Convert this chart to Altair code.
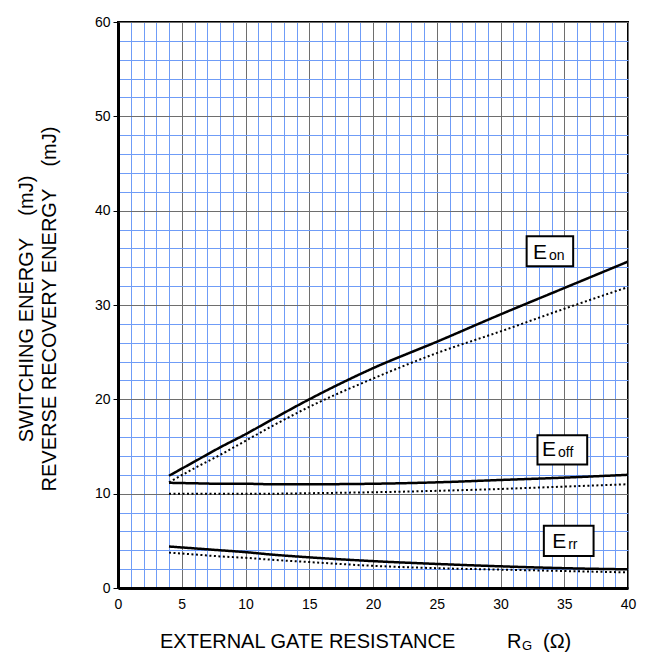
import altair as alt
import pandas as pd

rg = [4, 6, 8, 10, 12, 15, 20, 25, 30, 35, 40]
eon_solid = [11.9, 13.4, 14.9, 16.3, 17.8, 20.0, 23.3, 26.1, 29.0, 31.8, 34.6]
eon_dotted = [11.2, 12.7, 14.1, 15.6, 17.1, 19.2, 22.2, 24.9, 27.2, 29.6, 31.9]
eoff_solid = [11.15, 11.1, 11.05, 11.05, 11.0, 11.0, 11.05, 11.2, 11.45, 11.7, 12.0]
eoff_dotted = [10.0, 10.0, 10.0, 10.0, 10.0, 10.05, 10.15, 10.3, 10.5, 10.75, 11.0]
err_solid = [4.4, 4.2, 4.0, 3.8, 3.55, 3.25, 2.85, 2.55, 2.3, 2.1, 1.98]
err_dotted = [3.75, 3.55, 3.35, 3.2, 3.0, 2.75, 2.35, 2.1, 1.95, 1.8, 1.65]

series = {
    ("Eon", "solid"): eon_solid,
    ("Eon", "dotted"): eon_dotted,
    ("Eoff", "solid"): eoff_solid,
    ("Eoff", "dotted"): eoff_dotted,
    ("Err", "solid"): err_solid,
    ("Err", "dotted"): err_dotted,
}
rows = []
for (name, style), vals in series.items():
    for x, y in zip(rg, vals):
        rows.append({"rg": x, "e": y, "curve": name + "_" + style, "style": style})
df = pd.DataFrame(rows)

# label boxes (data coordinates)
box_names = ["Eon", "Eoff", "Err"]
box_x1 = [32.05, 32.9, 33.4]
box_x2 = [35.7, 36.8, 37.3]
box_y1 = [34.1, 13.1, 3.4]
box_y2 = [37.3, 16.2, 6.6]
lab_x = [33.65, 34.35, 35.15]
lab_y = [34.85, 14.0, 4.2]
lab_sub = ["on", "off", "rr"]
boxes = pd.DataFrame({"name": box_names, "x1": box_x1, "x2": box_x2,
                      "y1": box_y1, "y2": box_y2, "lx": lab_x, "ly": lab_y,
                      "sub": lab_sub})

FONT = "Liberation Sans"
W, H = 510, 566
NB = "\u00a0"

x_ticks = list(range(0, 41))
y_ticks = list(range(0, 61, 2))

xscale = alt.Scale(domain=[0, 40], nice=False, zero=False)
yscale = alt.Scale(domain=[0, 60], nice=False)

xaxis = alt.Axis(
    values=x_ticks,
    tickCount=len(x_ticks),
    labelExpr="datum.value % 5 === 0 ? datum.label : ''",
    grid=True,
    gridColor={"condition": {"test": "datum.value % 5 === 0", "value": "#6e6e6e"}, "value": "#6f9cf7"},
    gridWidth=1,
    ticks=False,
    domainColor="black",
    domainWidth=3,
    labelFont=FONT,
    labelFontSize=14,
    labelColor="black",
    labelPadding=9,
    labelOverlap=False,
    labelFlush=False,
    title=None,
)
yaxis = alt.Axis(
    values=y_ticks,
    tickCount=len(y_ticks),
    labelExpr="datum.value % 10 === 0 ? datum.label : ''",
    grid=True,
    gridColor={"condition": {"test": "datum.value % 10 === 0", "value": "#6e6e6e"}, "value": "#6f9cf7"},
    gridWidth=1,
    ticks=True,
    tickSize=5,
    tickColor="black",
    tickOpacity={"condition": {"test": "datum.value % 10 === 0", "value": 1}, "value": 0},
    domainColor="black",
    domainWidth=3,
    labelFont=FONT,
    labelFontSize=14,
    labelColor="black",
    labelPadding=3,
    labelOverlap=False,
    labelFlush=False,
    title=None,
)

bx = lambda f: alt.X(f, type="quantitative", scale=xscale, axis=xaxis)
by = lambda f: alt.Y(f, type="quantitative", scale=yscale, axis=yaxis)

lines = alt.Chart(df).mark_line(color="black", clip=True, interpolate="monotone").encode(
    x=bx("rg"),
    y=by("e"),
    detail="curve:N",
    strokeDash=alt.StrokeDash("style:N", scale=alt.Scale(domain=["solid", "dotted"], range=[[1, 0], [2, 2.5]]), legend=None),
    strokeWidth=alt.StrokeWidth("style:N", scale=alt.Scale(domain=["solid", "dotted"], range=[2.5, 2]), legend=None),
)

rects = alt.Chart(boxes).mark_rect(fill="white", stroke="black", strokeWidth=2).encode(
    x=bx("x1"), x2="x2", y=by("y1"), y2="y2"
)
etext = alt.Chart(boxes).mark_text(font=FONT, fontSize=21, align="right", baseline="alphabetic", color="black").encode(
    x=bx("lx"), y=by("ly"), text=alt.value("E")
)
subtext = alt.Chart(boxes).mark_text(font=FONT, fontSize=14, align="left", baseline="alphabetic", dx=2, dy=1, color="black").encode(
    x=bx("lx"), y=by("ly"), text="sub:N"
)

one = pd.DataFrame({"a": [0]})
TS = 20
BASE = 648 - 22
xt1 = alt.Chart(one).mark_text(font=FONT, fontSize=TS, align="left", baseline="alphabetic", color="black").encode(
    x=alt.value(42), y=alt.value(BASE), text=alt.value("EXTERNAL GATE RESISTANCE")
)
xt2 = alt.Chart(one).mark_text(font=FONT, fontSize=TS, align="left", baseline="alphabetic", color="black").encode(
    x=alt.value(389), y=alt.value(BASE), text=alt.value("R")
)
xt3 = alt.Chart(one).mark_text(font=FONT, fontSize=13, align="left", baseline="alphabetic", color="black").encode(
    x=alt.value(404), y=alt.value(BASE + 2), text=alt.value("G")
)
xt4 = alt.Chart(one).mark_text(font=FONT, fontSize=TS, align="left", baseline="alphabetic", color="black").encode(
    x=alt.value(425), y=alt.value(BASE), text=alt.value("(Ω)")
)
yt1 = alt.Chart(one).mark_text(font=FONT, fontSize=TS, align="center", baseline="middle", angle=270, color="black").encode(
    x=alt.value(27 - 118), y=alt.value(287), text=alt.value("SWITCHING ENERGY" + NB * 4 + "(mJ)")
)
yt2 = alt.Chart(one).mark_text(font=FONT, fontSize=TS, align="center", baseline="middle", angle=270, color="black").encode(
    x=alt.value(50 - 118), y=alt.value(287), text=alt.value("REVERSE RECOVERY ENERGY" + NB * 4 + "(mJ)")
)

chart = alt.layer(lines, rects, etext, subtext, xt1, xt2, xt3, xt4, yt1, yt2).properties(
    width=W, height=H,
    background="white",
    autosize=alt.AutoSizeParams(type="none"),
    padding={"left": 110, "top": 14, "right": 10, "bottom": 64},
).configure_view(
    stroke="black", strokeWidth=2
)

chart.save("out.html", embed_options={"renderer": "svg", "actions": False})
